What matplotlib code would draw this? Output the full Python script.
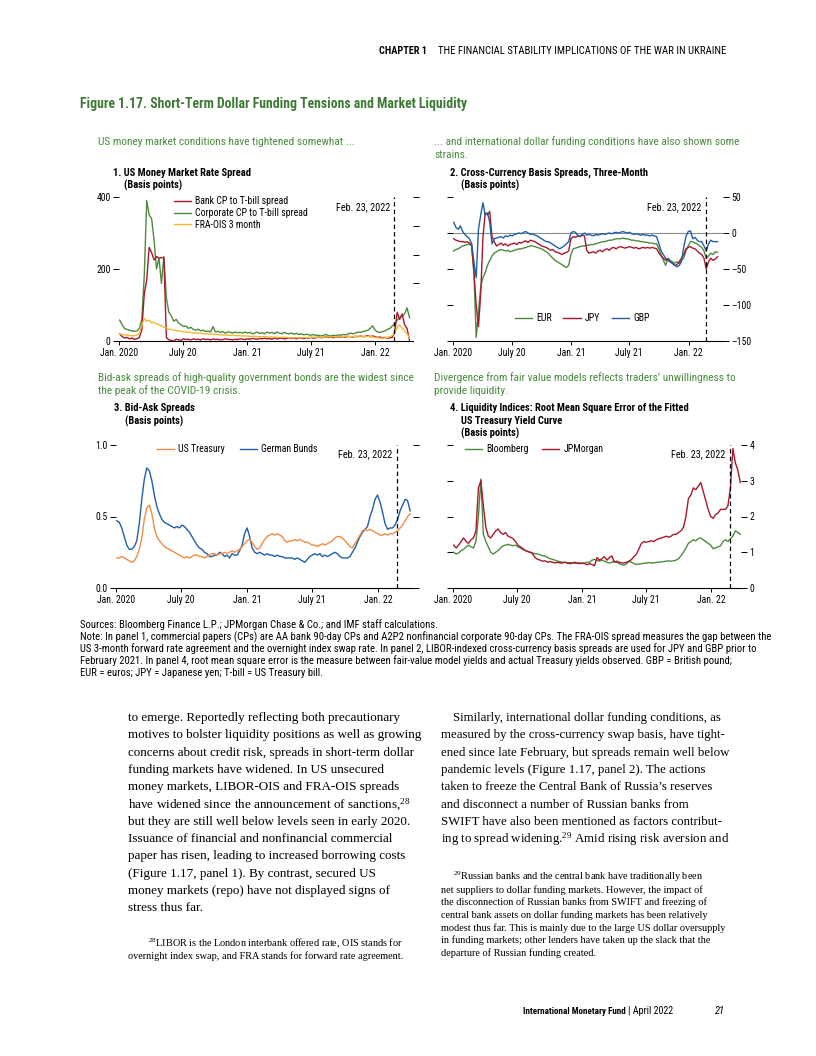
import matplotlib
matplotlib.use("Agg")
import matplotlib.pyplot as plt
import pandas as pd
from matplotlib import font_manager as fm

# ---------------- fonts ----------------
_fl = fm.fontManager.ttflist
_names = {f.name for f in _fl}
STRETCH = 'normal'
if 'Liberation Sans Narrow' in _names:
    SANS = 'Liberation Sans Narrow'
elif 'Roboto Condensed' in _names:
    SANS = 'Roboto Condensed'
elif any(f.name == 'DejaVu Sans' and 'condensed' in str(f.stretch) for f in _fl):
    SANS = 'DejaVu Sans'; STRETCH = 'condensed'
else:
    SANS = 'Liberation Sans'
SERIF = 'Liberation Serif' if 'Liberation Serif' in _names else 'DejaVu Serif'
plt.rcParams['font.family'] = [SANS, 'DejaVu Sans']
plt.rcParams['font.stretch'] = STRETCH
plt.rcParams['mathtext.default'] = 'regular'

# ---------------- data ----------------
XTICK_DATES = ['2020-01-01', '2020-07-01', '2021-01-01', '2021-07-01', '2022-01-01']
XTICK_LABELS = ['Jan. 2020', 'July 20', 'Jan. 21', 'July 21', 'Jan. 22']
EVENT_DATE = '2022-02-23'
EVENT_LABEL = 'Feb. 23, 2022'
START = '2020-01-03'

# Panel 1 (basis points), weekly
p1_bank_cp = [20, 12, 8, 10, 6, 8, 5, 6, 10, 30,
              130, 170, 260, 245, 225, 235, 230, 232, 230, 10,
              3, 2, 0, 5, 3, 2, 6, 4, 5, 3,
              6, 4, 5, 3, 6, 4, 5, 3, 6, 4,
              5, 3, 4, 6, 5, 4, 3, 5, 4, 6,
              5, 4, 6, 5, 7, 6, 5, 7, 6, 8,
              6, 7, 5, 8, 6, 7, 8, 6, 7, 9,
              7, 8, 6, 9, 8, 7, 9, 8, 10, 8,
              9, 11, 9, 10, 12, 10, 11, 9, 12, 10,
              11, 12, 10, 13, 12, 11, 13, 12, 14, 12,
              13, 15, 12, 14, 12, 10, 11, 9, 10, 8,
              9, 10, 25, 80, 60, 75, 45, 35, 2]
p1_corp_cp = [58, 45, 35, 32, 30, 28, 27, 28, 35, 60,
              180, 390, 350, 340, 280, 200, 230, 160, 235, 120,
              80, 70, 55, 60, 50, 45, 40, 42, 35, 38,
              32, 30, 33, 28, 30, 26, 28, 25, 40, 25,
              27, 24, 26, 22, 25, 24, 22, 25, 23, 24,
              22, 25, 22, 24, 20, 22, 25, 21, 23, 20,
              25, 22, 24, 20, 25, 22, 20, 24, 21, 20,
              22, 19, 21, 18, 20, 17, 19, 17, 16, 18,
              15, 16, 14, 16, 18, 15, 14, 16, 15, 17,
              16, 18, 17, 20, 22, 20, 22, 25, 24, 26,
              28, 30, 35, 42, 30, 25, 24, 26, 28, 32,
              35, 42, 48, 58, 65, 70, 75, 92, 65]
p1_fra_ois = [20, 18, 17, 16, 15, 14, 15, 16, 22, 45,
              62, 55, 58, 50, 52, 48, 45, 42, 38, 36,
              33, 32, 30, 29, 28, 27, 26, 25, 24, 24,
              23, 22, 22, 21, 21, 20, 20, 19, 19, 18,
              18, 17, 17, 17, 16, 16, 16, 15, 15, 15,
              14, 14, 14, 13, 13, 13, 12, 12, 12, 12,
              11, 11, 11, 11, 10, 10, 10, 10, 10, 9,
              9, 9, 9, 10, 9, 10, 9, 10, 10, 11,
              10, 11, 10, 11, 11, 12, 11, 12, 12, 11,
              12, 13, 12, 13, 12, 13, 12, 13, 14, 13,
              12, 13, 12, 11, 10, 9, 8, 8, 9, 10,
              12, 15, 22, 38, 45, 35, 28, 20, 8]

# Panel 2 (basis points), weekly
p2_eur = [-25, -23, -22, -20, -18, -17, -16, -15, -18, -55,
          -145, -110, -75, -62, -55, -45, -38, -32, -28, -26,
          -24, -23, -24, -25, -24, -26, -25, -24, -23, -22,
          -22, -21, -20, -19, -18, -18, -19, -20, -21, -22,
          -24, -26, -28, -32, -35, -38, -40, -42, -44, -46,
          -48, -45, -30, -22, -21, -20, -19, -18, -18, -17,
          -17, -16, -16, -15, -14, -13, -12, -12, -11, -10,
          -10, -9, -8, -8, -8, -7, -8, -8, -9, -10,
          -10, -11, -11, -12, -12, -13, -13, -14, -14, -15,
          -15, -22, -30, -38, -45, -35, -38, -40, -42, -40,
          -42, -38, -35, -25, -18, -12, -12, -14, -15, -18,
          -20, -25, -35, -32, -28, -30, -26, -27]
p2_jpy = [-8, -10, -11, -12, -12, -13, -12, -14, -18, -55,
          -100, -130, -85, -5, 28, 25, 30, -5, -12, -18,
          -16, -14, -17, -15, -18, -16, -15, -14, -16, -13,
          -14, -12, -11, -13, -10, -11, -12, -14, -16, -18,
          -19, -20, -22, -24, -23, -26, -27, -28, -30, -28,
          -27, -25, -8, -5, -6, -4, -5, -3, -4, -24,
          -28, -27, -26, -28, -25, -24, -26, -23, -22, -24,
          -21, -20, -22, -20, -19, -20, -21, -20, -19, -20,
          -21, -20, -22, -21, -20, -21, -20, -21, -20, -21,
          -22, -28, -32, -35, -38, -36, -40, -42, -45, -44,
          -40, -35, -30, -22, -20, -19, -21, -22, -25, -28,
          -30, -35, -50, -40, -35, -38, -36, -33]
p2_gbp = [15, 8, 5, 10, 2, -2, -5, -8, -15, -40,
          -62, 5, 25, 42, 25, 28, 15, -15, -8, -7,
          -6, -5, -7, -4, -5, -3, -4, -2, -1, 0,
          -1, 1, 2, 0, -2, -1, -3, -4, -6, -8,
          -10, -12, -12, -14, -16, -18, -20, -22, -20, -18,
          -15, -12, 0, 2, 1, -3, -5, -2, 0, -3,
          -2, -3, -4, -2, -3, -2, -1, -2, -1, 0,
          -1, 0, 1, 0, 1, 2, 1, 0, 1, -1,
          -2, -1, -2, -3, -2, -3, -3, -4, -3, -4,
          -5, -15, -25, -30, -35, -38, -40, -42, -45, -47,
          -45, -40, -20, -5, 2, 3, -8, -6, -10, -12,
          -12, -18, -25, -15, -10, -12, -12, -12]

# Panel 3 (basis points), weekly
p3_ust = [0.21, 0.21, 0.22, 0.21, 0.20, 0.19, 0.18, 0.19, 0.22, 0.27,
          0.35, 0.48, 0.56, 0.58, 0.52, 0.42, 0.36, 0.33, 0.31, 0.29,
          0.28, 0.27, 0.26, 0.25, 0.24, 0.23, 0.22, 0.21, 0.22, 0.21,
          0.22, 0.23, 0.23, 0.22, 0.22, 0.21, 0.22, 0.23, 0.24, 0.24,
          0.23, 0.24, 0.24, 0.25, 0.24, 0.25, 0.26, 0.25, 0.26, 0.27,
          0.29, 0.31, 0.33, 0.34, 0.32, 0.29, 0.27, 0.28, 0.31, 0.34,
          0.36, 0.37, 0.38, 0.37, 0.38, 0.37, 0.36, 0.33, 0.32, 0.33,
          0.33, 0.34, 0.33, 0.34, 0.33, 0.32, 0.32, 0.31, 0.30, 0.30,
          0.29, 0.30, 0.31, 0.30, 0.31, 0.32, 0.33, 0.35, 0.36, 0.36,
          0.35, 0.33, 0.31, 0.29, 0.28, 0.31, 0.34, 0.37, 0.40, 0.41,
          0.40, 0.41, 0.40, 0.39, 0.38, 0.37, 0.37, 0.38, 0.37, 0.38,
          0.38, 0.39, 0.40, 0.42, 0.44, 0.47, 0.50, 0.52]
p3_bund = [0.47, 0.46, 0.42, 0.36, 0.30, 0.27, 0.27, 0.29, 0.33, 0.45,
           0.62, 0.76, 0.84, 0.82, 0.75, 0.65, 0.57, 0.52, 0.48, 0.46,
           0.45, 0.44, 0.43, 0.42, 0.43, 0.42, 0.44, 0.43, 0.41, 0.39,
           0.36, 0.33, 0.30, 0.28, 0.27, 0.25, 0.24, 0.22, 0.22, 0.23,
           0.23, 0.25, 0.24, 0.22, 0.23, 0.21, 0.24, 0.23, 0.23, 0.26,
           0.30, 0.38, 0.42, 0.36, 0.28, 0.25, 0.24, 0.25, 0.24, 0.23,
           0.24, 0.23, 0.23, 0.22, 0.23, 0.22, 0.22, 0.21, 0.21, 0.21,
           0.21, 0.20, 0.21, 0.20, 0.19, 0.18, 0.20, 0.22, 0.23, 0.24,
           0.23, 0.24, 0.22, 0.23, 0.22, 0.23, 0.24, 0.25, 0.24, 0.22,
           0.21, 0.21, 0.21, 0.22, 0.25, 0.28, 0.32, 0.36, 0.39, 0.41,
           0.43, 0.50, 0.55, 0.62, 0.65, 0.60, 0.53, 0.45, 0.41, 0.42,
           0.42, 0.44, 0.48, 0.54, 0.58, 0.62, 0.61, 0.54]

# Panel 4 (basis points), weekly
p4_bloomberg = [1.00, 0.95, 0.98, 1.05, 1.08, 1.15, 1.20, 1.15, 1.12, 1.30,
                2.00, 3.05, 1.50, 1.30, 1.15, 1.00, 0.95, 1.00, 1.05, 1.12,
                1.18, 1.20, 1.22, 1.20, 1.18, 1.20, 1.15, 1.12, 1.08, 1.05,
                1.02, 1.00, 0.98, 0.96, 0.95, 0.93, 0.90, 0.90, 0.85, 0.82,
                0.80, 0.78, 0.75, 0.74, 0.72, 0.72, 0.70, 0.71, 0.70, 0.69,
                0.70, 0.70, 0.69, 0.70, 0.72, 0.72, 0.78, 0.80, 0.77, 0.75,
                0.78, 0.75, 0.72, 0.70, 0.72, 0.75, 0.72, 0.68, 0.65, 0.64,
                0.68, 0.75, 0.72, 0.68, 0.66, 0.67, 0.68, 0.69, 0.70, 0.71,
                0.70, 0.70, 0.72, 0.72, 0.73, 0.74, 0.75, 0.76, 0.75, 0.76,
                0.78, 0.82, 0.90, 1.00, 1.12, 1.25, 1.30, 1.35, 1.32, 1.38,
                1.40, 1.35, 1.30, 1.25, 1.20, 1.10, 1.12, 1.15, 1.18, 1.30,
                1.35, 1.30, 1.38, 1.45, 1.60, 1.55, 1.50]
p4_jpmorgan = [1.20, 1.12, 1.20, 1.30, 1.40, 1.30, 1.25, 1.35, 1.40, 1.60,
               2.80, 3.00, 2.30, 1.70, 1.45, 1.40, 1.50, 1.60, 1.65, 1.55,
               1.50, 1.55, 1.45, 1.42, 1.38, 1.30, 1.20, 1.15, 1.10, 1.05,
               1.02, 1.00, 0.95, 0.85, 0.80, 0.78, 0.75, 0.76, 0.72, 0.74,
               0.72, 0.70, 0.72, 0.70, 0.70, 0.72, 0.70, 0.68, 0.70, 0.72,
               0.70, 0.68, 0.70, 0.68, 0.65, 0.68, 0.66, 0.62, 0.85, 0.78,
               0.82, 0.88, 0.78, 0.85, 0.90, 0.72, 0.75, 0.72, 0.70, 0.70,
               0.72, 0.75, 0.80, 0.88, 0.95, 1.10, 1.25, 1.30, 1.28, 1.30,
               1.32, 1.30, 1.35, 1.38, 1.40, 1.42, 1.45, 1.42, 1.45, 1.50,
               1.50, 1.55, 1.60, 1.70, 2.00, 2.50, 2.60, 2.80, 2.75, 2.85,
               2.95, 2.70, 2.45, 2.20, 2.00, 1.95, 2.05, 2.10, 2.20, 2.20,
               2.20, 2.30, 2.80, 3.90, 3.50, 3.30, 2.95]

# ---------------- colours ----------------
RED = '#a8182d'
GREEN = '#4e8a3e'
YELLOW = '#f4b731'
BLUE = '#1f5fa6'
ORANGE = '#f08c45'
TITLE_GREEN = '#3e7a36'
SUB_GREEN = '#4a8a3e'

TICK_FS = 7.0
LEG_FS = 7.1
PT_FS = 7.6     # panel titles
SUB_FS = 8.2    # green subtitles

W, H = 816, 1056
fig = plt.figure(figsize=(8.16, 10.56), dpi=100)


def fx(x):
    return x / W


def fy(y):
    return 1 - y / H


def T(x, y, s, **kw):
    kw.setdefault('va', 'center')
    fig.text(fx(x), fy(y), s, **kw)


def dates(n):
    return pd.date_range(START, periods=n, freq='7D')


def make_ax(left, right, top, bottom, xmax):
    ax = fig.add_axes([fx(left), fy(bottom), (right - left) / W, (bottom - top) / H])
    for s in ['top', 'left', 'right']:
        ax.spines[s].set_visible(False)
    ax.spines['bottom'].set_linewidth(0.8)
    ax.set_xlim(pd.Timestamp('2020-01-01'), pd.Timestamp(xmax))
    ax.set_xticks(pd.to_datetime(XTICK_DATES))
    ax.set_xticklabels(XTICK_LABELS)
    ax.tick_params(axis='x', direction='out', length=3, width=0.7, pad=2, labelsize=TICK_FS)
    ax.tick_params(axis='y', direction='out', length=4, width=0.7, pad=2, labelsize=TICK_FS)
    ax.patch.set_alpha(0)
    return ax


def event(ax, dy_px):
    ev = pd.Timestamp(EVENT_DATE)
    ax.axvline(ev, color='black', lw=0.9, ls=(0, (3.5, 2.5)), zorder=5)
    ax.annotate(EVENT_LABEL, xy=(ev, 1), xycoords=('data', 'axes fraction'),
                xytext=(-3.0, -dy_px * 0.72), textcoords='offset points',
                ha='right', va='center', fontsize=7.4)


def legend(ax, handles, x, y, ncol, loc='center', colsp=1.3, labsp=0.2):
    ax.legend(handles=handles, loc=loc, ncol=ncol, bbox_to_anchor=(fx(x), fy(y)),
              bbox_transform=fig.transFigure, frameon=False, fontsize=LEG_FS,
              handlelength=1.75, handletextpad=0.4, columnspacing=colsp,
              labelspacing=labsp, borderpad=0, borderaxespad=0)


LW = 1.0

# ---------------- header ----------------
T(427, 51, 'CHAPTER 1', fontsize=7.4, fontweight='bold', ha='right')
T(726, 51, 'THE FINANCIAL STABILITY IMPLICATIONS OF THE WAR IN UKRAINE', fontsize=7.7, ha='right')

T(80, 104, 'Figure 1.17. Short-Term Dollar Funding Tensions and Market Liquidity',
  fontsize=9.9, fontweight='bold', color=TITLE_GREEN)

# ---------------- panel 1 ----------------
T(98, 142, 'US money market conditions have tightened somewhat ...', fontsize=SUB_FS, color=SUB_GREEN)
T(113, 173, '1. US Money Market Rate Spread', fontsize=PT_FS, fontweight='bold')
T(124, 185, '(Basis points)', fontsize=PT_FS, fontweight='bold')

ax1 = make_ax(119, 413, 197, 341, '2022-04-18')
l1, = ax1.plot(dates(len(p1_bank_cp)), p1_bank_cp, color=RED, lw=LW, label='Bank CP to T-bill spread', zorder=3)
l2, = ax1.plot(dates(len(p1_corp_cp)), p1_corp_cp, color=GREEN, lw=LW, label='Corporate CP to T-bill spread', zorder=2)
l3, = ax1.plot(dates(len(p1_fra_ois)), p1_fra_ois, color=YELLOW, lw=LW, label='FRA-OIS 3 month', zorder=4)
ax1.set_ylim(0, 400)
ax1.set_yticks([0, 200, 400])
ax1.set_yticklabels(['0', '200', '400'])
sec1 = ax1.secondary_yaxis('right')
sec1.set_yticks([160, 240, 320, 400])
sec1.set_yticklabels([])
sec1.spines['right'].set_visible(False)
sec1.tick_params(axis='y', direction='out', length=4, width=0.7)
event(ax1, 10)
legend(ax1, [l1, l2, l3], 174, 196, 1, loc='upper left')

# ---------------- panel 2 ----------------
T(434, 142, '... and international dollar funding conditions have also shown some', fontsize=SUB_FS, color=SUB_GREEN)
T(434, 155, 'strains.', fontsize=SUB_FS, color=SUB_GREEN)
T(450, 173, '2. Cross-Currency Basis Spreads, Three-Month', fontsize=PT_FS, fontweight='bold')
T(461, 185, '(Basis points)', fontsize=PT_FS, fontweight='bold')

ax2 = make_ax(453, 723, 197, 341, '2022-04-18')
ax2.axhline(0, color='#8c8c8c', lw=0.8, zorder=1)
m1, = ax2.plot(dates(len(p2_eur)), p2_eur, color=GREEN, lw=LW, label='EUR', zorder=2)
m2, = ax2.plot(dates(len(p2_jpy)), p2_jpy, color=RED, lw=LW, label='JPY', zorder=3)
m3, = ax2.plot(dates(len(p2_gbp)), p2_gbp, color=BLUE, lw=LW, label='GBP', zorder=4)
ax2.set_ylim(-150, 50)
ax2.set_yticks([-150, -100, -50, 0, 50])
ax2.set_yticklabels(['\u2013150', '\u2013100', '\u201350', '0', '50'])
ax2.tick_params(axis='y', left=True, right=True, labelleft=False, labelright=True)
event(ax2, 10)
legend(ax2, [m1, m2, m3], 582, 318, 3, colsp=1.2)

# ---------------- panel 3 ----------------
T(98, 378, 'Bid-ask spreads of high-quality government bonds are the widest since', fontsize=SUB_FS, color=SUB_GREEN)
T(98, 391, 'the peak of the COVID-19 crisis.', fontsize=SUB_FS, color=SUB_GREEN)
T(114, 408, '3. Bid-Ask Spreads', fontsize=PT_FS, fontweight='bold')
T(125, 421, '(Basis points)', fontsize=PT_FS, fontweight='bold')

ax3 = make_ax(116, 413, 445, 588, '2022-04-09')
n1, = ax3.plot(dates(len(p3_ust)), p3_ust, color=ORANGE, lw=LW, label='US Treasury', zorder=3)
n2, = ax3.plot(dates(len(p3_bund)), p3_bund, color=BLUE, lw=LW, label='German Bunds', zorder=2)
ax3.set_ylim(0, 1.0)
ax3.set_yticks([0, 0.5, 1.0])
ax3.set_yticklabels(['0.0', '0.5', '1.0'])
ax3.tick_params(axis='y', left=True, right=True, labelleft=True, labelright=False)
event(ax3, 9)
legend(ax3, [n1, n2], 237, 449, 2, colsp=1.5)

# ---------------- panel 4 ----------------
T(434, 378, "Divergence from fair value models reflects traders\u2019 unwillingness to", fontsize=SUB_FS, color=SUB_GREEN)
T(434, 391, 'provide liquidity.', fontsize=SUB_FS, color=SUB_GREEN)
T(450, 408, '4. Liquidity Indices: Root Mean Square Error of the Fitted', fontsize=PT_FS, fontweight='bold')
T(461, 421, 'US Treasury Yield Curve', fontsize=PT_FS, fontweight='bold')
T(461, 433, '(Basis points)', fontsize=PT_FS, fontweight='bold')

ax4 = make_ax(453, 741, 445, 588, '2022-03-27')
k1, = ax4.plot(dates(len(p4_bloomberg)), p4_bloomberg, color=GREEN, lw=LW, label='Bloomberg', zorder=2)
k2, = ax4.plot(dates(len(p4_jpmorgan)), p4_jpmorgan, color=RED, lw=LW, label='JPMorgan', zorder=3)
ax4.set_ylim(0, 4)
ax4.set_yticks([0, 1, 2, 3, 4])
ax4.set_yticklabels(['0', '1', '2', '3', '4'])
ax4.tick_params(axis='y', left=True, right=True, labelleft=False, labelright=True)
event(ax4, 9)
legend(ax4, [k1, k2], 534, 449, 2, colsp=1.4)

# ---------------- sources / notes ----------------
notes = [
    'Sources: Bloomberg Finance L.P.; JPMorgan Chase & Co.; and IMF staff calculations.',
    'Note: In panel 1, commercial papers (CPs) are AA bank 90-day CPs and A2P2 nonfinancial corporate 90-day CPs. The FRA-OIS spread measures the gap between the',
    'US 3-month forward rate agreement and the overnight index swap rate. In panel 2, LIBOR-indexed cross-currency basis spreads are used for JPY and GBP prior to',
    'February 2021. In panel 4, root mean square error is the measure between fair-value model yields and actual Treasury yields observed. GBP = British pound;',
    'EUR = euros; JPY = Japanese yen; T-bill = US Treasury bill.',
]
for i, s in enumerate(notes):
    T(80, 625 + 12 * i, s, fontsize=7.7)

# ---------------- body text ----------------
BODY_FS = 9.45
left_lines = [
    'to emerge. Reportedly reflecting both precautionary',
    'motives to bolster liquidity positions as well as growing',
    'concerns about credit risk, spreads in short-term dollar',
    'funding markets have widened. In US unsecured',
    'money markets, LIBOR-OIS and FRA-OIS spreads',
    'have widened since the announcement of sanctions,$^{28}$',
    'but they are still well below levels seen in early 2020.',
    'Issuance of financial and nonfinancial commercial',
    'paper has risen, leading to increased borrowing costs',
    '(Figure 1.17, panel 1). By contrast, secured US',
    'money markets (repo) have not displayed signs of',
    'stress thus far.',
]
for i, s in enumerate(left_lines):
    T(128, 718 + 17.3 * i, s, fontsize=BODY_FS, family=SERIF, stretch='normal')

right_lines = [
    'Similarly, international dollar funding conditions, as',
    'measured by the cross-currency swap basis, have tight-',
    'ened since late February, but spreads remain well below',
    'pandemic levels (Figure 1.17, panel 2). The actions',
    'taken to freeze the Central Bank of Russia\u2019s reserves',
    'and disconnect a number of Russian banks from',
    'SWIFT have also been mentioned as factors contribut-',
    'ing to spread widening.$^{29}$ Amid rising risk aversion and',
]
for i, s in enumerate(right_lines):
    T(453 if i == 0 else 441, 718 + 17.3 * i, s, fontsize=BODY_FS - 0.2, family=SERIF, stretch='normal')

FN_FS = 7.4
fn28 = [
    '$^{28}$LIBOR is the London interbank offered rate, OIS stands for',
    'overnight index swap, and FRA stands for forward rate agreement.',
]
for i, s in enumerate(fn28):
    T(148 if i == 0 else 128, 943 + 12.7 * i, s, fontsize=FN_FS, family=SERIF, stretch='normal')

fn29 = [
    '$^{29}$Russian banks and the central bank have traditionally been',
    'net suppliers to dollar funding markets. However, the impact of',
    'the disconnection of Russian banks from SWIFT and freezing of',
    'central bank assets on dollar funding markets has been relatively',
    'modest thus far. This is mainly due to the large US dollar oversupply',
    'in funding markets; other lenders have taken up the slack that the',
    'departure of Russian funding created.',
]
for i, s in enumerate(fn29):
    T(453 if i == 0 else 441, 877 + 12.7 * i, s, fontsize=FN_FS, family=SERIF, stretch='normal')

# ---------------- footer ----------------
T(626, 1011, 'International Monetary Fund', fontsize=6.5, fontweight='bold', ha='right')
T(628, 1011, '| April 2022', fontsize=7.2, ha='left')
T(725, 1011, '21', fontsize=7.6, ha='right', style='italic')

fig.savefig('out.png', dpi=100)
